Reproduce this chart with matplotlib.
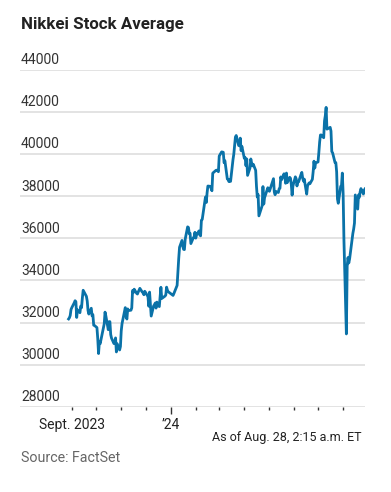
import datetime as dt
import matplotlib
matplotlib.use("Agg")
import matplotlib.pyplot as plt

# Nikkei Stock Average, daily closes
dates = [
    "2023-08-28", "2023-08-29", "2023-08-30", "2023-08-31", "2023-09-01",
    "2023-09-04", "2023-09-05", "2023-09-06", "2023-09-07", "2023-09-08",
    "2023-09-11", "2023-09-12", "2023-09-13", "2023-09-14", "2023-09-15",
    "2023-09-19", "2023-09-20", "2023-09-21", "2023-09-22", "2023-09-25",
    "2023-09-26", "2023-09-27", "2023-09-28", "2023-09-29",
    "2023-10-02", "2023-10-03", "2023-10-04", "2023-10-05", "2023-10-06",
    "2023-10-10", "2023-10-11", "2023-10-12", "2023-10-13", "2023-10-16",
    "2023-10-17", "2023-10-18", "2023-10-19", "2023-10-20", "2023-10-23",
    "2023-10-24", "2023-10-25", "2023-10-26", "2023-10-27", "2023-10-30",
    "2023-10-31",
    "2023-11-01", "2023-11-02", "2023-11-06", "2023-11-07", "2023-11-08",
    "2023-11-09", "2023-11-10", "2023-11-13", "2023-11-14", "2023-11-15",
    "2023-11-16", "2023-11-17", "2023-11-20", "2023-11-21", "2023-11-22",
    "2023-11-24", "2023-11-27", "2023-11-28", "2023-11-29", "2023-11-30",
    "2023-12-01", "2023-12-04", "2023-12-05", "2023-12-06", "2023-12-07",
    "2023-12-08", "2023-12-11", "2023-12-12", "2023-12-13", "2023-12-14",
    "2023-12-15", "2023-12-18", "2023-12-19", "2023-12-20", "2023-12-21",
    "2023-12-22", "2023-12-25", "2023-12-26", "2023-12-27", "2023-12-28",
    "2023-12-29",
    "2024-01-04", "2024-01-05", "2024-01-09", "2024-01-10", "2024-01-11",
    "2024-01-12", "2024-01-15", "2024-01-16", "2024-01-17", "2024-01-18",
    "2024-01-19", "2024-01-22", "2024-01-23", "2024-01-24", "2024-01-25",
    "2024-01-26", "2024-01-29", "2024-01-30", "2024-01-31",
    "2024-02-01", "2024-02-02", "2024-02-05", "2024-02-06", "2024-02-07",
    "2024-02-08", "2024-02-09", "2024-02-13", "2024-02-14", "2024-02-15",
    "2024-02-16", "2024-02-19", "2024-02-20", "2024-02-21", "2024-02-22",
    "2024-02-26", "2024-02-27", "2024-02-28", "2024-02-29",
    "2024-03-01", "2024-03-04", "2024-03-05", "2024-03-06", "2024-03-07",
    "2024-03-08", "2024-03-11", "2024-03-12", "2024-03-13", "2024-03-14",
    "2024-03-15", "2024-03-18", "2024-03-19", "2024-03-21", "2024-03-22",
    "2024-03-25", "2024-03-26", "2024-03-27", "2024-03-28", "2024-03-29",
    "2024-04-01", "2024-04-02", "2024-04-03", "2024-04-04", "2024-04-05",
    "2024-04-08", "2024-04-09", "2024-04-10", "2024-04-11", "2024-04-12",
    "2024-04-15", "2024-04-16", "2024-04-17", "2024-04-18", "2024-04-19",
    "2024-04-22", "2024-04-23", "2024-04-24", "2024-04-25", "2024-04-26",
    "2024-04-30",
    "2024-05-01", "2024-05-02", "2024-05-07", "2024-05-08", "2024-05-09",
    "2024-05-10", "2024-05-13", "2024-05-14", "2024-05-15", "2024-05-16",
    "2024-05-17", "2024-05-20", "2024-05-21", "2024-05-22", "2024-05-23",
    "2024-05-24", "2024-05-27", "2024-05-28", "2024-05-29", "2024-05-30",
    "2024-05-31",
    "2024-06-03", "2024-06-04", "2024-06-05", "2024-06-06", "2024-06-07",
    "2024-06-10", "2024-06-11", "2024-06-12", "2024-06-13", "2024-06-14",
    "2024-06-17", "2024-06-18", "2024-06-19", "2024-06-20", "2024-06-21",
    "2024-06-24", "2024-06-25", "2024-06-26", "2024-06-27", "2024-06-28",
    "2024-07-01", "2024-07-02", "2024-07-03", "2024-07-04", "2024-07-05",
    "2024-07-08", "2024-07-09", "2024-07-10", "2024-07-11", "2024-07-12",
    "2024-07-16", "2024-07-17", "2024-07-18", "2024-07-19", "2024-07-22",
    "2024-07-23", "2024-07-24", "2024-07-25", "2024-07-26", "2024-07-29",
    "2024-07-30", "2024-07-31",
    "2024-08-01", "2024-08-02", "2024-08-05", "2024-08-06", "2024-08-07",
    "2024-08-08", "2024-08-09", "2024-08-13", "2024-08-14", "2024-08-15",
    "2024-08-16", "2024-08-19", "2024-08-20", "2024-08-21", "2024-08-22",
    "2024-08-23", "2024-08-26", "2024-08-27", "2024-08-28",
]
closes = [
    32170, 32227, 32333, 32619, 32710,
    32939, 33036, 32991, 32241, 32607,
    32467, 32776, 32707, 33168, 33533,
    33242, 33023, 32571, 32402, 32678,
    32315, 32371, 31872, 31858,
    31759, 31238, 30526, 31075, 30995,
    31746, 31936, 32494, 32316, 31659,
    32040, 32042, 31430, 31259, 30999,
    31062, 31269, 30602, 30992, 30697,
    30859,
    31601, 31950, 32708, 32272, 32166,
    32646, 32568, 32585, 32695, 33520,
    33424, 33585, 33388, 33354, 33451,
    33625, 33447, 33408, 33321, 33486,
    33431, 33231, 32775, 33446, 32858,
    32307, 32791, 32843, 32926, 32686,
    32970, 32758, 33219, 33675, 33141,
    33169, 33255, 33306, 33681, 33540,
    33464,
    33288, 33377, 33763, 34441, 35049,
    35577, 35901, 35619, 35477, 35466,
    35963, 36546, 36517, 36226, 36236,
    35751, 36026, 36065, 36287,
    36011, 36158, 36354, 36160, 36119,
    36863, 36897, 37963, 37703, 38157,
    38487, 38470, 38363, 38262, 39098,
    39233, 39239, 39208, 39166,
    39910, 40109, 40097, 40090, 39598,
    39688, 38820, 38797, 38695, 38807,
    38707, 39740, 40003, 40815, 40888,
    40414, 40398, 40762, 40168, 40369,
    39803, 39838, 39451, 39773, 38992,
    39347, 39773, 39581, 39442, 39523,
    39232, 38471, 37961, 38079, 37068,
    37438, 37552, 38460, 37628, 37934,
    38405,
    38274, 38236, 38835, 38202, 38074,
    38229, 38179, 38356, 38385, 38920,
    38787, 39069, 38946, 38617, 39103,
    38646, 38900, 38855, 38556, 38054,
    38487,
    38923, 38837, 38490, 38703, 38683,
    39038, 39134, 38876, 38720, 38814,
    38102, 38482, 38570, 38633, 38596,
    38804, 39173, 39667, 39341, 39583,
    39631, 40074, 40580, 40913, 40912,
    40780, 41580, 41831, 42224, 41190,
    41275, 41097, 40126, 40063, 39599,
    39594, 39154, 37869, 37667, 38468,
    38525, 39101,
    38126, 35909, 31458, 34675, 35089,
    34831, 35025, 36232, 36442, 36726,
    38062, 37389, 38062, 37951, 38211,
    38364, 38110, 38288, 38350,
]
y_ticks = [28000, 30000, 32000, 34000, 36000, 38000, 40000, 42000, 44000]
x_labels = [("2023-09-01", "Sept. 2023"), ("2024-01-01", "\u201924")]

x = [dt.datetime.strptime(d, "%Y-%m-%d") for d in dates]

plt.rcParams["font.family"] = ["Roboto", "DejaVu Sans"]

W, H = 391, 492
fig = plt.figure(figsize=(W / 100, H / 100), dpi=100)
ax = fig.add_axes([20 / W, (H - 406.7) / H, 345 / W, (406.7 - 70) / H])

ax.plot(x, closes, color="#0a72a8", lw=2.0, solid_joinstyle="round", zorder=3)

ax.set_ylim(28000, 44000)
ax.set_xlim(dt.datetime(2023, 6, 29), dt.datetime(2024, 8, 28))

# gridlines with labels sitting just above them
ax.set_yticks(y_ticks)
ax.yaxis.grid(True, color="#e3e3e3", lw=1.4, zorder=0)
ax.tick_params(axis="y", length=0, labelleft=False)
for v in y_ticks:
    ax.text(0.003, v + 130, f"{v}", transform=ax.get_yaxis_transform(),
            ha="left", va="bottom", fontsize=10, color="#333333")

for s in ["top", "right", "left", "bottom"]:
    ax.spines[s].set_visible(False)

# month ticks along the bottom, bigger one at the year change
months = [dt.datetime(2023, m, 1) for m in range(9, 13)] + \
         [dt.datetime(2024, m, 1) for m in range(1, 9)]
ax.set_xticks([m for m in months if m.month != 1], minor=True)
ax.set_xticks([dt.datetime(2024, 1, 1)])
ax.set_xticklabels([""])
ax.tick_params(axis="x", which="minor", length=2, width=1, color="#333333")
ax.tick_params(axis="x", which="major", length=5, width=1, color="#333333")

for d, lab in x_labels:
    ax.text(dt.datetime.strptime(d, "%Y-%m-%d"), -0.055, lab,
            transform=ax.get_xaxis_transform(), ha="center", va="center",
            fontsize=10, color="#222222")

fig.text(21 / W, 1 - 25 / H, "Nikkei Stock Average", fontsize=12.2,
         fontweight="bold", color="#222222", ha="left", va="center")
fig.text(362 / W, 1 - 438 / H, "As of Aug. 28, 2:15 a.m. ET", fontsize=9,
         color="#222222", ha="right", va="center")
fig.text(21 / W, 1 - 458 / H, "Source: FactSet", fontsize=10.3,
         color="#666666", ha="left", va="center")

fig.savefig("out.png", dpi=100)
